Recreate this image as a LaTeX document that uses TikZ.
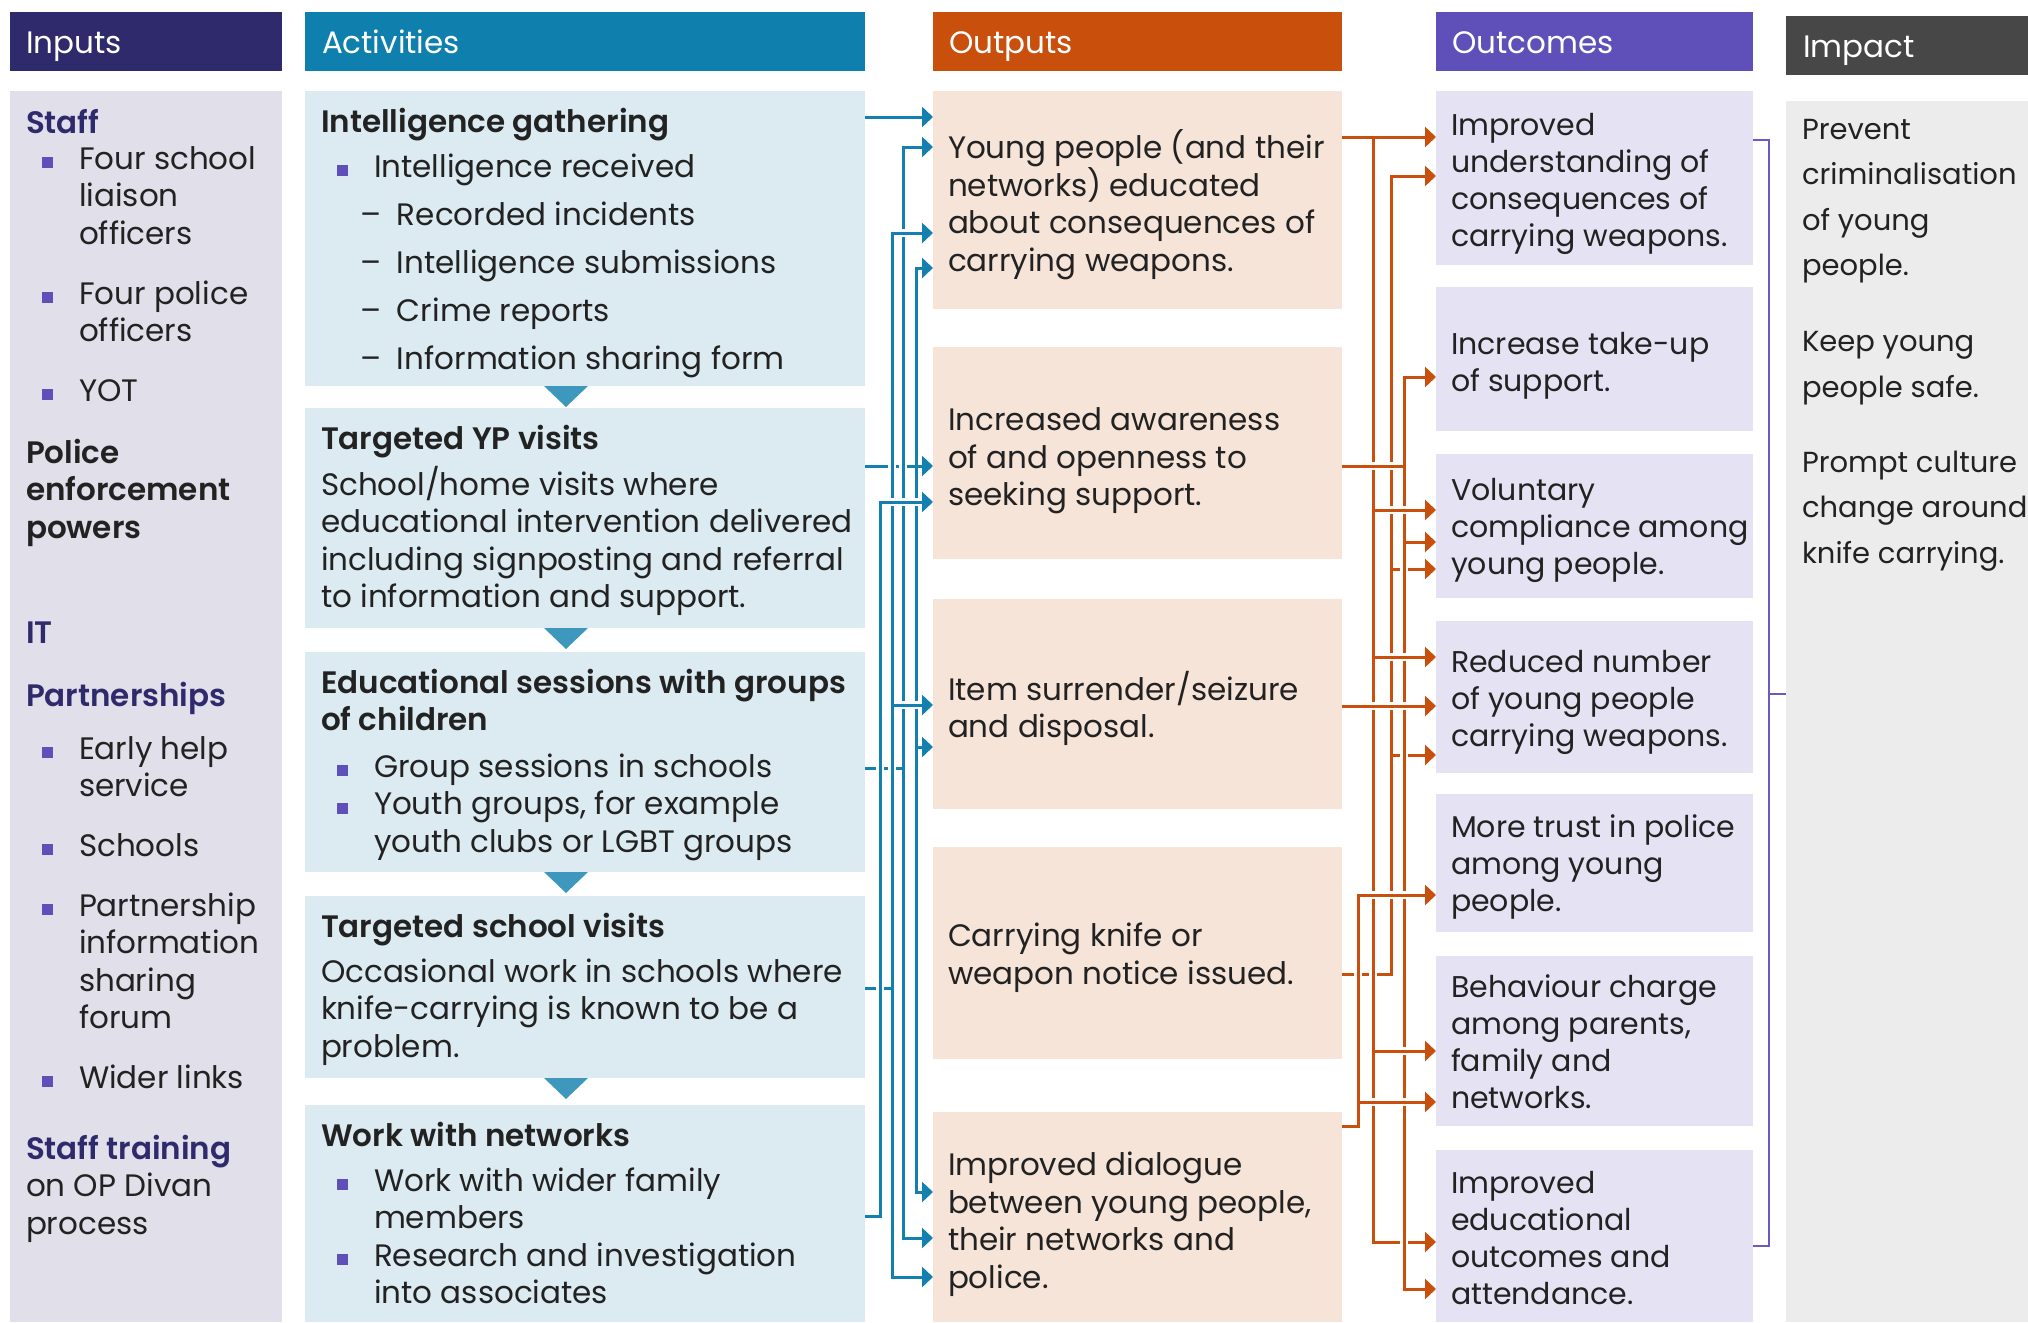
\documentclass[tikz,border=0pt]{standalone}
\usepackage{fontspec}
\setmainfont{Poppins}[BoldFont={Poppins SemiBold}]
\usetikzlibrary{arrows.meta,positioning}

\definecolor{inhead}{HTML}{2F2A6C}
\definecolor{acthead}{HTML}{0F7FAD}
\definecolor{outhead}{HTML}{C8500C}
\definecolor{ochead}{HTML}{5E4FB9}
\definecolor{imphead}{HTML}{474747}
\definecolor{infill}{HTML}{E0DFEA}
\definecolor{actfill}{HTML}{DCEBF2}
\definecolor{outfill}{HTML}{F7E4D9}
\definecolor{ocfill}{HTML}{E5E3F3}
\definecolor{impfill}{HTML}{ECECEC}
\definecolor{trifill}{HTML}{3E97BD}
\definecolor{linkblue}{HTML}{1380B0}
\definecolor{linkorange}{HTML}{C8500C}
\definecolor{bracketpurple}{HTML}{6A5BC4}
\definecolor{bulletpurple}{HTML}{5E4FB9}
\definecolor{navytext}{HTML}{2F2A6C}
\definecolor{darktext}{HTML}{222222}

% list markers
\newcommand\sqitem{\makebox[53pt][l]{\hspace*{16pt}\textcolor{bulletpurple}{\rule[1pt]{11pt}{11pt}}}}
\newcommand\dashitem{\makebox[76pt][l]{\hspace*{39pt}--}}
\newcommand\indentline{\hspace*{53pt}}

\tikzset{
  every node/.style={inner sep=0pt, outer sep=0pt},
  headbox/.style={anchor=north west, minimum height=59pt},
  headlabel/.style={anchor=base west, text=white, font=\fontsize{31}{37}\selectfont},
  panel/.style={anchor=north west},
  % text blocks are placed by the baseline of their first line
  body/.style={anchor=north west, yshift=27pt, align=left, text=darktext,
    font=\fontsize{31}{37.5}\selectfont, execute at begin node={\rule{0pt}{27pt}}},
  outcome/.style={body, font=\fontsize{30}{37}\selectfont},
  % connectors: a white casing underneath cuts the lines they cross
  link/.style={line width=3pt, preaction={draw=white, line width=8pt, arrows=-}},
  feedlink/.style={line width=3pt, preaction={draw=white, line width=8pt, arrows=-, shorten >=6pt}},
  branchlink/.style={line width=3pt, preaction={draw=white, line width=8pt, arrows=-, shorten <=6pt}},
  plainlink/.style={line width=3pt},
  bracket/.style={draw=bracketpurple, line width=2.5pt}
}

\begin{document}
\begin{tikzpicture}[x=1pt, y=-1pt, >={Triangle[length=11pt,width=20pt]}]
\useasboundingbox (0,0) rectangle (2028,1322);

% column heads
\node[headbox, fill=inhead, minimum width=272pt] (inhead) at (10,12) {};
\node[headbox, fill=acthead, minimum width=560pt] (acthead) at (305,12) {};
\node[headbox, fill=outhead, minimum width=409pt] (outhead) at (933,12) {};
\node[headbox, fill=ochead, minimum width=317pt] (ochead) at (1436,12) {};
\node[headbox, fill=imphead, minimum width=242pt] (imphead) at (1786,16) {};
\node[headlabel] (inlabel) at (26,53) {Inputs};
\node[headlabel] (actlabel) at (322,53) {Activities};
\node[headlabel] (outlabel) at (949,53) {Outputs};
\node[headlabel] (oclabel) at (1452,53) {Outcomes};
\node[headlabel] (implabel) at (1803,57) {Impact};

% panels
\node[panel, fill=infill, minimum width=272pt, minimum height=1231pt] (inputs) at (10,91) {};
\node[panel, fill=actfill, minimum width=560pt, minimum height=295pt] (act1) at (305,91) {};
\node[panel, fill=actfill, minimum width=560pt, minimum height=220pt] (act2) at (305,408) {};
\node[panel, fill=actfill, minimum width=560pt, minimum height=220pt] (act3) at (305,652) {};
\node[panel, fill=actfill, minimum width=560pt, minimum height=182pt] (act4) at (305,896) {};
\node[panel, fill=actfill, minimum width=560pt, minimum height=217pt] (act5) at (305,1105) {};
\node[panel, fill=outfill, minimum width=409pt, minimum height=218pt] (out1) at (933,91) {};
\node[panel, fill=outfill, minimum width=409pt, minimum height=212pt] (out2) at (933,347) {};
\node[panel, fill=outfill, minimum width=409pt, minimum height=210pt] (out3) at (933,599) {};
\node[panel, fill=outfill, minimum width=409pt, minimum height=212pt] (out4) at (933,847) {};
\node[panel, fill=outfill, minimum width=409pt, minimum height=210pt] (out5) at (933,1112) {};
\node[panel, fill=ocfill, minimum width=317pt, minimum height=174pt] (oc1) at (1436,91) {};
\node[panel, fill=ocfill, minimum width=317pt, minimum height=144pt] (oc2) at (1436,287) {};
\node[panel, fill=ocfill, minimum width=317pt, minimum height=144pt] (oc3) at (1436,454) {};
\node[panel, fill=ocfill, minimum width=317pt, minimum height=152pt] (oc4) at (1436,621) {};
\node[panel, fill=ocfill, minimum width=317pt, minimum height=138pt] (oc5) at (1436,794) {};
\node[panel, fill=ocfill, minimum width=317pt, minimum height=170pt] (oc6) at (1436,956) {};
\node[panel, fill=ocfill, minimum width=317pt, minimum height=172pt] (oc7) at (1436,1150) {};
\node[panel, fill=impfill, minimum width=242pt, minimum height=1221pt] (imp) at (1786,101) {};

% down markers between the activities
\foreach \a in {act1,act2,act3,act4}
  \fill[trifill] (\a.south) ++(-41,0) -- ++(44,0) -- ++(-22,21) -- cycle;

% inputs
\node[body] (intext) at (26,136) {%
  \textcolor{navytext}{\bfseries Staff}\\[-1.5pt]
  \sqitem Four school\\
  \indentline liaison\\
  \indentline officers\\[22.5pt]
  \sqitem Four police\\
  \indentline officers\\[22pt]
  \sqitem YOT\\[24.5pt]
  \textbf{Police}\\
  \textbf{enforcement}\\
  \textbf{powers}\\[67.5pt]
  \textcolor{navytext}{\bfseries IT}\\[25.5pt]
  \textcolor{navytext}{\bfseries Partnerships}\\[15.5pt]
  \sqitem Early help\\
  \indentline service\\[22pt]
  \sqitem Schools\\[22.5pt]
  \sqitem Partnership\\
  \indentline information\\
  \indentline sharing\\
  \indentline forum\\[22pt]
  \sqitem Wider links\\[33.5pt]
  \textcolor{navytext}{\bfseries Staff training}\\
  on OP Divan\\
  process};

% activities
\node[body] (act1text) at (321,135) {%
  \textbf{Intelligence gathering}\\[7.5pt]
  \sqitem Intelligence received\\[10.5pt]
  \dashitem Recorded incidents\\[10.5pt]
  \dashitem Intelligence submissions\\[10.5pt]
  \dashitem Crime reports\\[10.5pt]
  \dashitem Information sharing form};
\node[body] (act2text) at (321,452) {%
  \textbf{Targeted YP visits}\\[7.5pt]
  School/home visits where\\
  educational intervention delivered\\
  including signposting and referral\\
  to information and support.};
\node[body] (act3text) at (321,696) {%
  \textbf{Educational sessions with groups}\\
  \textbf{of children}\\[9pt]
  \sqitem Group sessions in schools\\
  \sqitem Youth groups, for example\\
  \indentline youth clubs or LGBT groups};
\node[body] (act4text) at (321,940) {%
  \textbf{Targeted school visits}\\[7.5pt]
  Occasional work in schools where\\
  knife-carrying is known to be a\\
  problem.};
\node[body] (act5text) at (321,1149) {%
  \textbf{Work with networks}\\[7.5pt]
  \sqitem Work with wider family\\
  \indentline members\\
  \sqitem Research and investigation\\
  \indentline into associates};

% outputs
\node[body] (out1text) at (948,157) {Young people (and their\\networks) educated\\about consequences of\\carrying weapons.};
\node[body] (out2text) at (948,435) {Increased awareness\\of and openness to\\seeking support.};
\node[body] (out3text) at (948,698) {Item surrender/seizure\\and disposal.};
\node[body] (out4text) at (948,950) {Carrying knife or\\weapon notice issued.};
\node[body] (out5text) at (948,1179) {Improved dialogue\\between young people,\\their networks and\\police.};

% outcomes
\node[outcome] (oc1text) at (1451,140) {Improved\\understanding of\\consequences of\\carrying weapons.};
\node[outcome] (oc2text) at (1451,359) {Increase take-up\\of support.};
\node[outcome] (oc3text) at (1451,505) {Voluntary\\compliance among\\young people.};
\node[outcome] (oc4text) at (1451,677) {Reduced number\\of young people\\carrying weapons.};
\node[outcome] (oc5text) at (1451,842) {More trust in police\\among young\\people.};
\node[outcome] (oc6text) at (1451,1002) {Behaviour charge\\among parents,\\family and\\networks.};
\node[outcome] (oc7text) at (1451,1198) {Improved\\educational\\outcomes and\\attendance.};

% impact
\node[body, font=\fontsize{29}{45.5}\selectfont] (imptext) at (1802,146) {%
  Prevent\\criminalisation\\of young\\people.\\[30.5pt]
  Keep young\\people safe.\\[29.5pt]
  Prompt culture\\change around\\knife carrying.};

% activities to outputs
\draw[link, linkblue, ->] (act1.east |- 0,117) -- (out1.west |- 0,117);
\draw[link, linkblue, ->] (act2.east |- 0,466) -- (out2.west |- 0,466);
\draw[plainlink, linkblue, <->] (out1.west |- 0,268) -| (916,1192) -- (out5.west |- 0,1192);
\draw[plainlink, linkblue, ->] (916,747) -- (out3.west |- 0,747);
\draw[link, linkblue, <->] (out1.west |- 0,147) -| (903,1238) -- (out5.west |- 0,1238);
\draw[feedlink, linkblue] (act3.east |- 0,768) -- (903,768);
\draw[link, linkblue, <->] (out1.west |- 0,233) -| (892,1277) -- (out5.west |- 0,1277);
\draw[branchlink, linkblue, ->] (892,705) -- (out3.west |- 0,705);
\draw[feedlink, linkblue] (act4.east |- 0,988) -- (892,988);
\draw[link, linkblue, ->] (act5.east |- 0,1216) -| (880,502) -- (out2.west |- 0,502);

% outputs to outcomes
\draw[link, linkorange, <-] (oc1.west |- 0,176) -| (1391,974) -- (out4.east |- 0,974);
\draw[branchlink, linkorange, ->] (1391,569) -- (oc3.west |- 0,569);
\draw[branchlink, linkorange, ->] (1391,755) -- (oc4.west |- 0,755);
\draw[link, linkorange, ->] (out1.east |- 0,137) -- (oc1.west |- 0,137);
\draw[branchlink, linkorange, ->] (1373,137) |- (oc7.west |- 0,1242);
\draw[link, linkorange, <->] (oc2.west |- 0,377) -| (1404,1289) -- (oc7.west |- 0,1289);
\draw[feedlink, linkorange] (out2.east |- 0,466) -- (1404,466);
\draw[branchlink, linkorange, ->] (1404,542) -- (oc3.west |- 0,542);
\foreach \y/\oc in {510/oc3, 657/oc4, 1051/oc6}
  \draw[branchlink, linkorange, ->] (1373,\y) -- (\oc.west |- 0,\y);
\draw[link, linkorange, ->] (out3.east |- 0,706) -- (oc4.west |- 0,706);
\draw[link, linkorange, <-] (oc5.west |- 0,895) -| (1358,1126) -- (out5.east |- 0,1126);
\draw[branchlink, linkorange, ->] (1358,1102) -- (oc6.west |- 0,1102);

% outcomes to impact
\draw[bracket] (oc1.east |- 0,140) -| (1769,1246) -- (oc7.east |- 0,1246);
\draw[bracket] (1769,694) -- (imp.west |- 0,694);
\end{tikzpicture}
\end{document}
